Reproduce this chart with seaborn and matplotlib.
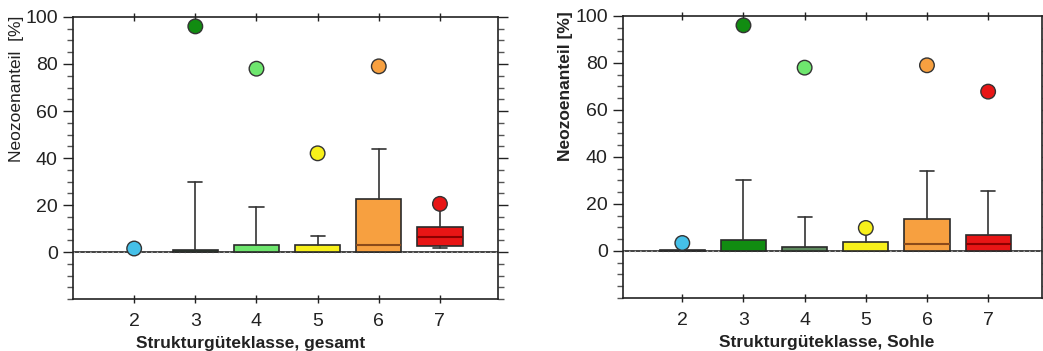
import matplotlib
matplotlib.use("Agg")
import matplotlib.pyplot as plt
from matplotlib.ticker import MultipleLocator
import seaborn as sns

# ---------------- data ----------------
classes = [2, 3, 4, 5, 6, 7]
tick_labels = ["2", "3", "4", "5", "6", "7"]

# Strukturgüteklasse, gesamt
ges_q1 = [0, 0, 0, 0, 0, 2.5]
ges_med = [0, 0, 0, 0, 3, 6.5]
ges_q3 = [0, 1, 3, 3, 22.5, 10.5]
ges_whislo = [0, 0, 0, 0, 0, 1.7]
ges_whishi = [0, 30, 19, 7, 44, 20.5]
ges_out = [1.5, 96, 78, 42, 79, 20.5]

# Strukturgüteklasse, Sohle
soh_q1 = [0, 0, 0, 0, 0, 0]
soh_med = [0, 0, 0, 0, 3, 3]
soh_q3 = [0.3, 4.7, 1.5, 4, 13.6, 7]
soh_whislo = [0, 0, 0, 0, 0, 0]
soh_whishi = [0.3, 30, 14.6, 9.8, 34.2, 25.7]
soh_out = [3.4, 96, 78, 9.8, 79, 67.8]

marker_colors = ["#45c0e8", "#118c11", "#6ee66e", "#f8f01a", "#f7a040", "#e81515"]
ges_box_colors = ["#45c0e8", "#2f5530", "#6ee66e", "#f8f01a", "#f7a040", "#e81515"]
soh_box_colors = ["#45c0e8", "#118c11", "#5e8a5e", "#f8f01a", "#f7a040", "#e81515"]
median_colors = ["#333333", "#333333", "#333333", "#333333", "#8b4a1a", "#8b0000"]

ylabels = ["Neozoenanteil  [%]", "Neozoenanteil [%]"]
ylabel_weights = ["normal", "bold"]
xlabels = ["Strukturgüteklasse, gesamt", "Strukturgüteklasse, Sohle"]

sns.set_style("white")
plt.rcParams["font.family"] = ["Liberation Sans", "DejaVu Sans"]

fig = plt.figure(figsize=(10.43, 3.51), dpi=100)
ax1 = fig.add_axes([0.070, 0.148, 0.4075, 0.8036])
ax2 = fig.add_axes([0.5973, 0.151, 0.4017, 0.8036])

panels = [
    (ax1, ges_q1, ges_med, ges_q3, ges_whislo, ges_whishi, ges_out, ges_box_colors, (1, 7.95)),
    (ax2, soh_q1, soh_med, soh_q3, soh_whislo, soh_whishi, soh_out, soh_box_colors, (1.03, 7.88)),
]
ylabel_pos = [(-0.132, 0.745), (-0.138, 0.75)]
xlabel_pos = [(0.419, -0.158), (0.487, -0.158)]

for i, (ax, q1, med, q3, wlo, whi, out, bcol, xl) in enumerate(panels):
    stats = []
    for k in range(len(classes)):
        stats.append(dict(q1=q1[k], med=med[k], q3=q3[k], whislo=wlo[k],
                          whishi=whi[k], fliers=[], label=tick_labels[k]))
    res = ax.bxp(stats, positions=classes, widths=0.74, capwidths=0.23,
                 patch_artist=True, showfliers=False, manage_ticks=False,
                 boxprops=dict(edgecolor="#2a2a2a", linewidth=1.2),
                 whiskerprops=dict(color="#333333", linewidth=1.2),
                 capprops=dict(color="#333333", linewidth=1.2),
                 medianprops=dict(linewidth=1.5))
    for k, b in enumerate(res["boxes"]):
        b.set_facecolor(bcol[k])
        if q3[k] - q1[k] <= 0:
            b.set_visible(False)
    for k, m in enumerate(res["medians"]):
        m.set_color(median_colors[k])
        if med[k] == q1[k]:
            m.set_visible(False)
    for k in range(len(classes)):
        if whi[k] <= q3[k]:
            res["whiskers"][2 * k + 1].set_visible(False)
            res["caps"][2 * k + 1].set_visible(False)
        if wlo[k] >= q1[k]:
            res["whiskers"][2 * k].set_visible(False)
            res["caps"][2 * k].set_visible(False)
        if whi[k] == out[k]:
            res["caps"][2 * k + 1].set_visible(False)

    sns.scatterplot(x=classes, y=out, hue=classes,
                    palette=dict(zip(classes, marker_colors)),
                    s=110, edgecolor="#333333", linewidth=1.0,
                    legend=False, ax=ax, zorder=5)

    ax.axhline(0, color="#222222", lw=1.2, zorder=1)
    ax.axhline(0, color="#aaaaaa", lw=1.0, ls=(0, (1, 3)), zorder=1.5)

    ax.set_xlim(*xl)
    ax.set_ylim(-20, 100)
    ax.set_xticks(classes)
    ax.set_xticklabels(tick_labels)
    ax.set_yticks([0, 20, 40, 60, 80, 100])
    ax.yaxis.set_minor_locator(MultipleLocator(5))
    for s in ax.spines.values():
        s.set_visible(True)
        s.set_color("#222222")
        s.set_linewidth(1.2)
    ax.tick_params(axis="y", which="major", left=True, right=True, direction="out",
                   length=7, width=1, labelsize=14, colors="#222222", pad=4)
    ax.tick_params(axis="y", which="minor", left=True, right=True, direction="out",
                   length=4, width=1, colors="#555555")
    ax.tick_params(axis="x", which="major", bottom=True, top=True, direction="inout",
                   length=6, width=1, labelsize=14, colors="#222222", pad=7)
    ax.set_ylabel(ylabels[i], fontsize=12.5, fontweight=ylabel_weights[i], color="#222222",
                  va="center", ha="center")
    ax.yaxis.set_label_coords(*ylabel_pos[i])
    ax.set_xlabel(xlabels[i], fontsize=12.5, fontweight="bold", color="#222222",
                  va="center", ha="center")
    ax.xaxis.set_label_coords(*xlabel_pos[i])

fig.savefig("out.png", dpi=100)
